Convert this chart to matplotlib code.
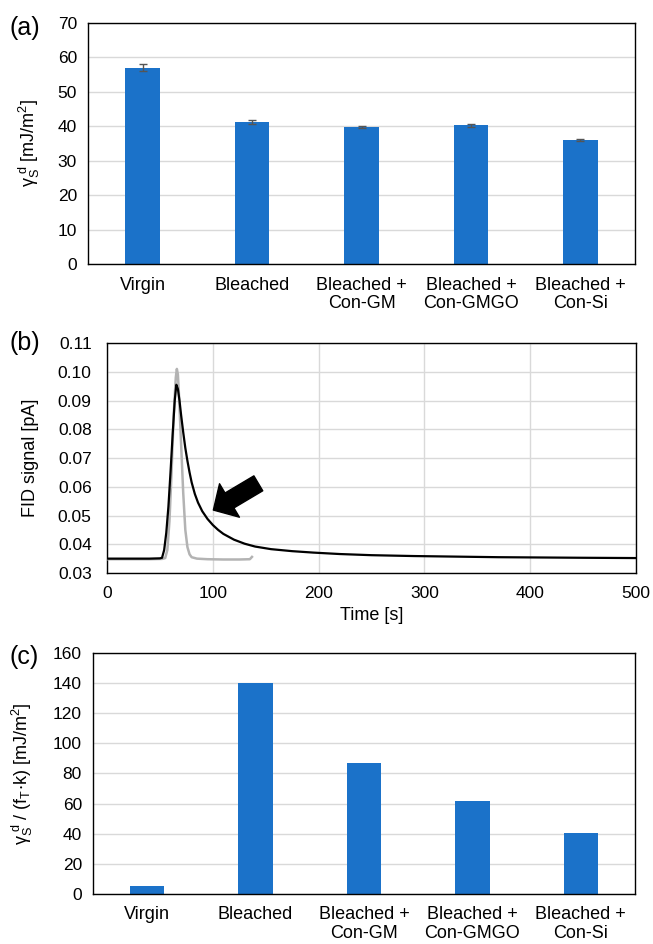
import numpy as np
import matplotlib.pyplot as plt
from matplotlib.patches import FancyArrowPatch

plt.rcParams['font.family'] = ['Liberation Sans', 'DejaVu Sans']
plt.rcParams['mathtext.default'] = 'regular'

# --- datos ---
categories = ['Virgin', 'Bleached', 'Bleached +\nCon-GM', 'Bleached +\nCon-GMGO', 'Bleached +\nCon-Si']
gamma_d = [57.0, 41.2, 39.8, 40.2, 36.0]
gamma_err = [1.1, 0.5, 0.25, 0.5, 0.25]
gamma_norm = [5.5, 140.0, 87.0, 62.0, 40.5]

# FID, muestra (negro)
t_black = [0, 20, 40, 50, 52, 54, 56, 58, 60, 62, 64, 65.5, 67, 68.5, 70, 72, 74, 76, 78, 80,
           83, 86, 90, 95, 100, 105, 110, 120, 130, 140, 155, 175, 195, 220, 250, 290, 330,
           370, 410, 450, 500]
y_black = [0.0350, 0.0350, 0.0350, 0.0351, 0.0353, 0.0380, 0.0440, 0.0530, 0.0650, 0.0780,
           0.0900, 0.0955, 0.0940, 0.0900, 0.0850, 0.0790, 0.0735, 0.0690, 0.0650, 0.0615,
           0.0575, 0.0545, 0.0515, 0.0488, 0.0467, 0.0450, 0.0436, 0.0416, 0.0402, 0.0392,
           0.0383, 0.0376, 0.0371, 0.0366, 0.0362, 0.0359, 0.0357, 0.0355, 0.0354, 0.0353,
           0.0352]
# FID, referencia (gris)
t_grey = [0, 20, 40, 52, 55, 57, 59, 61, 63, 65, 66, 67, 68, 70, 72, 74, 76, 78, 80,
          85, 95, 110, 125, 135, 137]
y_grey = [0.0348, 0.0348, 0.0348, 0.0349, 0.0352, 0.0380, 0.0480, 0.0650, 0.0850, 0.0980,
          0.1010, 0.0990, 0.0920, 0.0750, 0.0580, 0.0450, 0.0390, 0.0365, 0.0355,
          0.0350, 0.0348, 0.0347, 0.0347, 0.0348, 0.0356]

bar_color = '#1B72C9'
grid_color = '#d9d9d9'

fig = plt.figure(figsize=(6.53, 9.44), dpi=100)


def style_axes(ax):
    ax.set_axisbelow(True)
    ax.tick_params(length=0, labelsize=12.5, pad=8)
    for s in ax.spines.values():
        s.set_linewidth(1.0)
        s.set_color('black')


def bar_panel(rect, values, ylim, step, ylabel, err=None):
    ax = fig.add_axes(rect)
    x = np.arange(len(categories))
    ax.bar(x, values, width=0.316, color=bar_color, zorder=2)
    if err is not None:
        ax.errorbar(x, values, yerr=err, fmt='none', ecolor='#555555',
                    elinewidth=1.0, capsize=3, capthick=1.0, zorder=3)
    ax.set_xlim(-0.5, len(categories) - 0.5)
    ax.set_ylim(*ylim)
    ax.set_yticks(np.arange(ylim[0], ylim[1] + 1, step))
    ax.set_xticks(x)
    style_axes(ax)
    ax.set_xticklabels(categories, fontsize=13, linespacing=1.15)
    ax.yaxis.grid(True, color=grid_color, linewidth=1.0)
    ax.set_ylabel(ylabel, fontsize=13)
    ax.tick_params(axis='x', pad=9)
    return ax


ax1 = bar_panel([0.1348, 0.7203, 0.8377, 0.2556], gamma_d, (0, 70), 10,
                r'$\gamma_S^{\ d}$ [mJ/m$^2$]', err=gamma_err)
ax1.yaxis.set_label_coords(-0.084, 0.5)

ax3 = bar_panel([0.1424, 0.0530, 0.8300, 0.2553], gamma_norm, (0, 160), 20,
                r'$\gamma_S^{\ d}$ / (f$_T$$\cdot$k) [mJ/m$^2$]')
ax3.yaxis.set_label_coords(-0.107, 0.5)

# --- panel (b) ---
ax2 = fig.add_axes([0.1639, 0.3930, 0.8101, 0.2436])
ax2.plot(t_grey, y_grey, color='#b3b3b3', linewidth=1.8, zorder=3)
ax2.plot(t_black, y_black, color='black', linewidth=1.6, zorder=4)
ax2.set_xlim(0, 500)
ax2.set_ylim(0.03, 0.11)
ax2.set_xticks(np.arange(0, 501, 100))
ax2.set_yticks(np.arange(0.03, 0.111, 0.01))
ax2.set_yticklabels([f'{v:.2f}' for v in np.arange(0.03, 0.111, 0.01)])
ax2.grid(True, color=grid_color, linewidth=1.0)
style_axes(ax2)
ax2.set_xlabel('Time [s]', fontsize=13, labelpad=5)
ax2.set_ylabel('FID signal [pA]', fontsize=13)
ax2.yaxis.set_label_coords(-0.129, 0.5)
ax2.tick_params(axis='y', pad=11)
ax2.tick_params(axis='x', pad=9)

arrow = FancyArrowPatch((143, 0.0612), (100.5, 0.0519),
                        arrowstyle='simple,head_width=2.8,head_length=1.35,tail_width=1.25',
                        mutation_scale=10, shrinkA=0, shrinkB=0,
                        color='black', zorder=5)
ax2.add_patch(arrow)

# etiquetas de panel
fig.text(0.014, 0.970, '(a)', fontsize=18, va='center')
fig.text(0.014, 0.6367, '(b)', fontsize=18, va='center')
fig.text(0.014, 0.3043, '(c)', fontsize=18, va='center')

fig.savefig('out.png', dpi=100)
